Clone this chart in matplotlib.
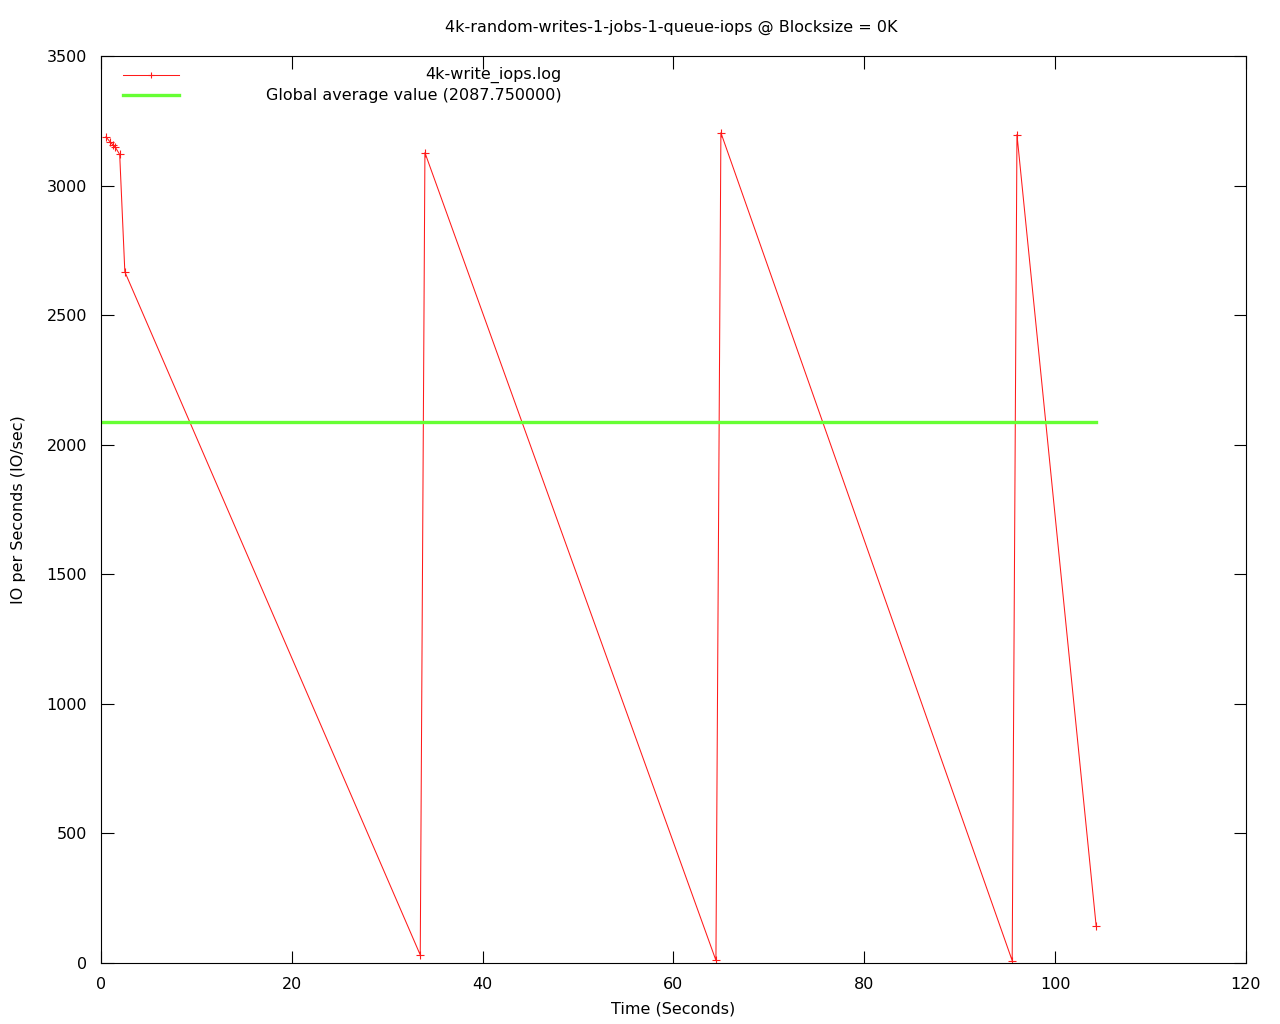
import matplotlib
matplotlib.use("Agg")
import matplotlib.pyplot as plt
from matplotlib.lines import Line2D

# datos (tiempo en segundos, iops)
tiempo = [0.52, 0.94, 1.26, 1.5, 1.96, 2.5, 33.46, 33.95, 64.45, 64.97, 95.5, 96.0, 104.3]
iops = [3188, 3169, 3157, 3148, 3120, 2667, 31, 3127, 10, 3204, 9, 3197, 143]
promedio = 2087.75
titulo = "4k-random-writes-1-jobs-1-queue-iops @ Blocksize = 0K"
etiqueta_serie = "4k-write_iops.log"
etiqueta_promedio = "Global average value (2087.750000)"

plt.rcParams['font.family'] = ['DejaVu Sans']
tam = 11.5

fig = plt.figure(figsize=(12.8, 10.24), dpi=100)
ax = fig.add_axes([0.0789, 0.0596, 0.8945, 0.8857])

ax.plot(tiempo, iops, color="#ff1a1a", lw=0.75, marker="+", ms=5.5, mew=0.8)
ax.plot([0, tiempo[-1]], [promedio, promedio], color="#66ff33", lw=2.4)

ax.set_xlim(0, 120)
ax.set_ylim(0, 3500)
ax.set_xticks(range(0, 121, 20))
ax.set_yticks(range(0, 3501, 500))
ax.tick_params(direction="in", length=9, width=0.8, top=True, right=True, labelsize=tam)
ax.tick_params(axis="x", pad=10)
ax.tick_params(axis="y", pad=10)
for s in ax.spines.values():
    s.set_linewidth(0.8)

ax.set_xlabel("Time (Seconds)", fontsize=tam, labelpad=7)
ax.set_ylabel("IO per Seconds (IO/sec)", fontsize=tam, labelpad=15)
fig.text(0.5245, 0.9736, titulo, ha="center", va="center", fontsize=tam)

# leyenda al estilo gnuplot
for y, txt, color, lw, mk in [(0.979, etiqueta_serie, "#ff1a1a", 0.75, "+"),
                             (0.957, etiqueta_promedio, "#66ff33", 2.4, None)]:
    ax.add_line(Line2D([0.019, 0.068], [y, y], transform=ax.transAxes, color=color, lw=lw))
    if mk:
        ax.add_line(Line2D([0.0435], [y], transform=ax.transAxes, color=color,
                           marker=mk, ms=4, mew=0.8))
    ax.text(0.402, y, txt, transform=ax.transAxes, ha="right", va="center", fontsize=tam)

fig.savefig("out.png", dpi=100)
